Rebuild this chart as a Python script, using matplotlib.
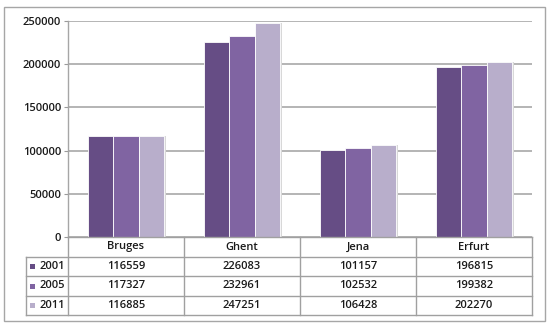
import matplotlib
matplotlib.use("Agg")
import matplotlib.pyplot as plt
import numpy as np
from matplotlib.patches import Rectangle
from matplotlib.lines import Line2D

categories = ["Bruges", "Ghent", "Jena", "Erfurt"]
years = ["2001", "2005", "2011"]
v2001 = [116559, 226083, 101157, 196815]
v2005 = [117327, 232961, 102532, 199382]
v2011 = [116885, 247251, 106428, 202270]
series = [v2001, v2005, v2011]
colors = ["#664d85", "#8064a2", "#b8aecb"]
yticks = [0, 50000, 100000, 150000, 200000, 250000]

W, H = 550, 328
fig = plt.figure(figsize=(W / 100, H / 100), dpi=100)
plt.rcParams['font.family'] = ['Open Sans', 'DejaVu Sans']
plt.rcParams['font.weight'] = 'semibold'
tc = "#1a1a1a"

def fx(x):
    return x / W

def fy(y):
    return 1 - y / H

# outer border
fig.patches.append(Rectangle((fx(4), fy(321)), fx(545) - fx(4), fy(7) - fy(321),
                             transform=fig.transFigure, fill=False,
                             edgecolor="#a6a6a6", linewidth=1.0))

L, R, T, B = 68, 532, 21, 237
ax = fig.add_axes([fx(L), fy(B), fx(R) - fx(L), fy(T) - fy(B)])
n = len(categories)
x = np.arange(n)
bw = 1 / 4.5
for i, (vals, c) in enumerate(zip(series, colors)):
    pos = x + (i - 1) * bw
    # subtle shadow
    ax.bar(pos + 0.012, vals, width=bw, color="#d8d8d8", zorder=2, linewidth=0)
    ax.bar(pos, vals, width=bw * 0.97, color=c, zorder=3, edgecolor="white", linewidth=0.6)

ax.set_xlim(-0.5, n - 0.5)
ax.set_ylim(0, 250000)
ax.set_yticks(yticks)
ax.set_yticklabels([str(t) for t in yticks], fontsize=8, color=tc, fontweight='semibold')
ax.tick_params(axis="y", length=3, width=0.8, color="#9a9a9a", pad=2)
ax.set_xticks([])
ax.yaxis.grid(True, color="#a0a0a0", linewidth=1.1, zorder=0)
ax.set_axisbelow(True)
for s in ["top", "right", "bottom"]:
    ax.spines[s].set_visible(False)
ax.spines["left"].set_color("#a6a6a6")
ax.spines["left"].set_linewidth(1.0)

# data table
lc = "#a0a0a0"
rows_y = [237, 257, 276, 296, 315]
cw = (R - L) / n
col_x = [L + k * cw for k in range(n + 1)]

def hline(y, x0, x1):
    fig.lines.append(Line2D([fx(x0), fx(x1)], [fy(y), fy(y)], transform=fig.transFigure,
                            color=lc, linewidth=1.0))

def vline(x0, y0, y1):
    fig.lines.append(Line2D([fx(x0), fx(x0)], [fy(y0), fy(y1)], transform=fig.transFigure,
                            color=lc, linewidth=1.0))

hline(rows_y[0], L, R)
for y in rows_y[1:]:
    hline(y, 26, R)
vline(26, rows_y[1], rows_y[-1])
for cx in col_x:
    vline(cx, rows_y[0], rows_y[-1])

fs = 8
for k, cat in enumerate(categories):
    fig.text(fx(col_x[k] + cw / 2), fy((rows_y[0] + rows_y[1]) / 2), cat,
             ha="center", va="center", fontsize=fs, color=tc, fontweight='semibold')
for i, (yr, vals, c) in enumerate(zip(years, series, colors)):
    yc = (rows_y[i + 1] + rows_y[i + 2]) / 2
    fig.patches.append(Rectangle((fx(30), fy(yc + 2.5)), fx(5), fy(yc - 2.5) - fy(yc + 2.5),
                                 transform=fig.transFigure, facecolor=c, edgecolor="none"))
    fig.text(fx(39), fy(yc), yr, ha="left", va="center", fontsize=fs, color=tc,
             fontweight='semibold')
    for k, v in enumerate(vals):
        fig.text(fx(col_x[k] + cw / 2), fy(yc), str(v), ha="center", va="center",
                 fontsize=fs, color=tc, fontweight='semibold')

fig.savefig("out.png", dpi=100)
